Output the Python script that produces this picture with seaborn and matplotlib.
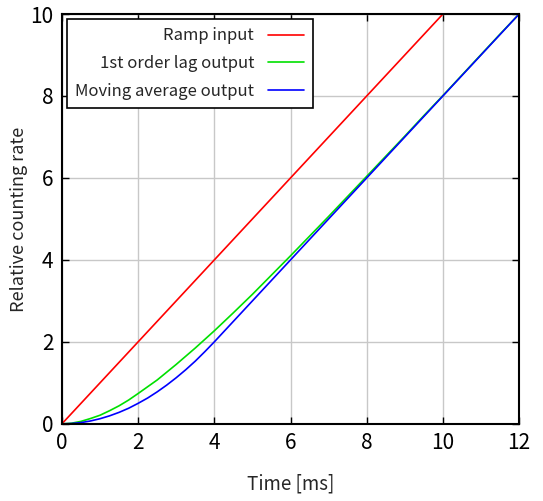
import pandas as pd
import matplotlib
matplotlib.use("Agg")
import matplotlib.pyplot as plt
import seaborn as sns

# values (time in ms)
ramp_t = [0, 10]
ramp_y = [0, 10]

lag_t = [0, 0.25, 0.5, 0.75, 1, 1.25, 1.5, 1.75, 2, 2.5, 3, 3.5, 4, 4.5, 5, 5.5,
         6, 6.5, 7, 7.5, 8, 8.5, 9, 9.5, 10, 10.5, 11, 11.5, 12]
lag_y = [0, 0.015, 0.06, 0.13, 0.21, 0.32, 0.44, 0.58, 0.74, 1.07, 1.45, 1.85,
         2.27, 2.71, 3.16, 3.63, 4.10, 4.58, 5.06, 5.55, 6.04, 6.53, 7.02, 7.52,
         8.01, 8.51, 9.01, 9.51, 10.0]

ma_t = [0, 0.25, 0.5, 0.75, 1, 1.25, 1.5, 1.75, 2, 2.25, 2.5, 2.75, 3, 3.25,
        3.5, 3.75, 4, 12]
ma_y = [0, 0.008, 0.03, 0.07, 0.125, 0.195, 0.28, 0.38, 0.5, 0.63, 0.78, 0.945,
        1.125, 1.32, 1.53, 1.76, 2.0, 10.0]

sns.set_theme(style="whitegrid")
plt.rcParams['font.family'] = ['Noto Sans CJK JP', 'DejaVu Sans']

fig = plt.figure(figsize=(5.43, 5.01), dpi=100)
ax = fig.add_axes([0.114, 0.154, 0.842, 0.818])

df_ramp = pd.DataFrame({'t': ramp_t, 'y': ramp_y})
df_lag = pd.DataFrame({'t': lag_t, 'y': lag_y})
df_ma = pd.DataFrame({'t': ma_t, 'y': ma_y})

sns.lineplot(data=df_ramp, x='t', y='y', color='#ff0000', lw=1.2, label='Ramp input', ax=ax)
sns.lineplot(data=df_lag, x='t', y='y', color='#00e000', lw=1.2, label='1st order lag output', ax=ax)
sns.lineplot(data=df_ma, x='t', y='y', color='#0000ff', lw=1.2, label='Moving average output', ax=ax)

ax.set_xlim(0, 12)
ax.set_ylim(0, 10)
ax.set_xticks(range(0, 13, 2))
ax.set_yticks(range(0, 11, 2))
ax.grid(True, color='#c8c8c8', lw=1)
for s in ax.spines.values():
    s.set_color('black')
    s.set_linewidth(1.5)
ax.tick_params(direction='in', length=5, width=1, colors='black',
               top=True, right=True, bottom=True, left=True, labelsize=15, pad=6)
ax.set_xlabel("Time [ms]", fontsize=13.5, labelpad=14)
ax.set_ylabel("Relative counting rate", fontsize=13)
ax.yaxis.set_label_coords(-0.075, 0.5)

leg = ax.legend(loc='upper left', markerfirst=False, fontsize=12, frameon=True,
                fancybox=False, edgecolor='black', framealpha=1, handlelength=2.2,
                borderaxespad=0.3, labelspacing=0.65, borderpad=0.5)
leg.get_frame().set_linewidth(1.2)
for t in leg.get_texts():
    t.set_ha('right')
leg._legend_box.align = 'right'

fig.savefig("out.png", dpi=100)
